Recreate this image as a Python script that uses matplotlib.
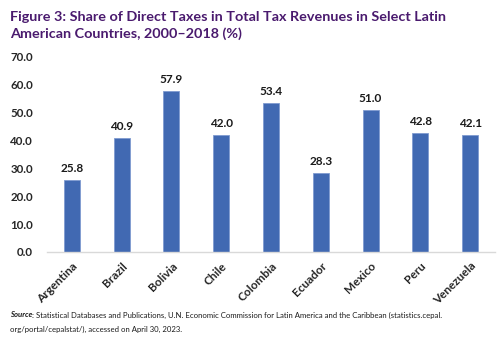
import numpy as np
import matplotlib.pyplot as plt

countries = ["Argentina", "Brazil", "Bolivia", "Chile", "Colombia",
             "Ecuador", "Mexico", "Peru", "Venezuela"]
shares = [25.8, 40.9, 57.9, 42.0, 53.4, 28.3, 51.0, 42.8, 42.1]
yticks = [0, 10, 20, 30, 40, 50, 60, 70]

plt.rcParams['font.family'] = ['Lato', 'DejaVu Sans']

fig = plt.figure(figsize=(5, 3.41), dpi=100)
ax = fig.add_axes([0.094, 0.261, 0.896, 0.572])

x = np.arange(len(countries))
ax.bar(x, shares, width=0.32, color='#4169b2', edgecolor='#7f9bd0', linewidth=0.6)
for xi, v in zip(x, shares):
    ax.text(xi, v + 2.2, f"{v:.1f}", ha='center', va='bottom',
            fontsize=8.5, fontweight='bold', color='#1a1a1a')

ax.set_xlim(-0.5, len(countries) - 0.5)
ax.set_ylim(0, 70)
ax.set_yticks(yticks)
ax.set_yticklabels([f"{t:.1f}" for t in yticks], fontsize=8.3,
                   fontweight='bold', color='#262626')
ax.set_xticks(x)
ax.set_xticklabels(countries, rotation=45, ha='right', rotation_mode='anchor',
                   fontsize=8.5, fontweight='bold', color='#262626')
ax.tick_params(axis='both', length=0)
ax.tick_params(axis='y', pad=10)
ax.tick_params(axis='x', pad=6)
for side in ['left', 'right', 'top']:
    ax.spines[side].set_visible(False)
ax.spines['bottom'].set_color('#d9d9d9')
ax.spines['bottom'].set_linewidth(1.0)

fig.text(0.02, 0.967, "Figure 3: Share of Direct Taxes in Total Tax Revenues in Select Latin\nAmerican Countries, 2000\u20132018 (%)",
         ha='left', va='top', fontsize=10.4, fontweight='bold', color='#4a1a6e',
         linespacing=1.35)

# source note: bold italic lead-in followed by plain text
src = fig.text(0.02, 0.087, "Source", ha='left', va='top', fontsize=5.6,
               fontweight='bold', fontstyle='italic', color='#1a1a1a')
fig.canvas.draw()
bb = src.get_window_extent().transformed(fig.transFigure.inverted())
fig.text(bb.x1, 0.087, ": Statistical Databases and Publications, U.N. Economic Commission for Latin America and the Caribbean (statistics.cepal.",
         ha='left', va='top', fontsize=5.6, color='#1a1a1a')
fig.text(0.02, 0.045, "org/portal/cepalstat/), accessed on April 30, 2023.",
         ha='left', va='top', fontsize=5.6, color='#1a1a1a')

fig.savefig("out.png", dpi=100)
